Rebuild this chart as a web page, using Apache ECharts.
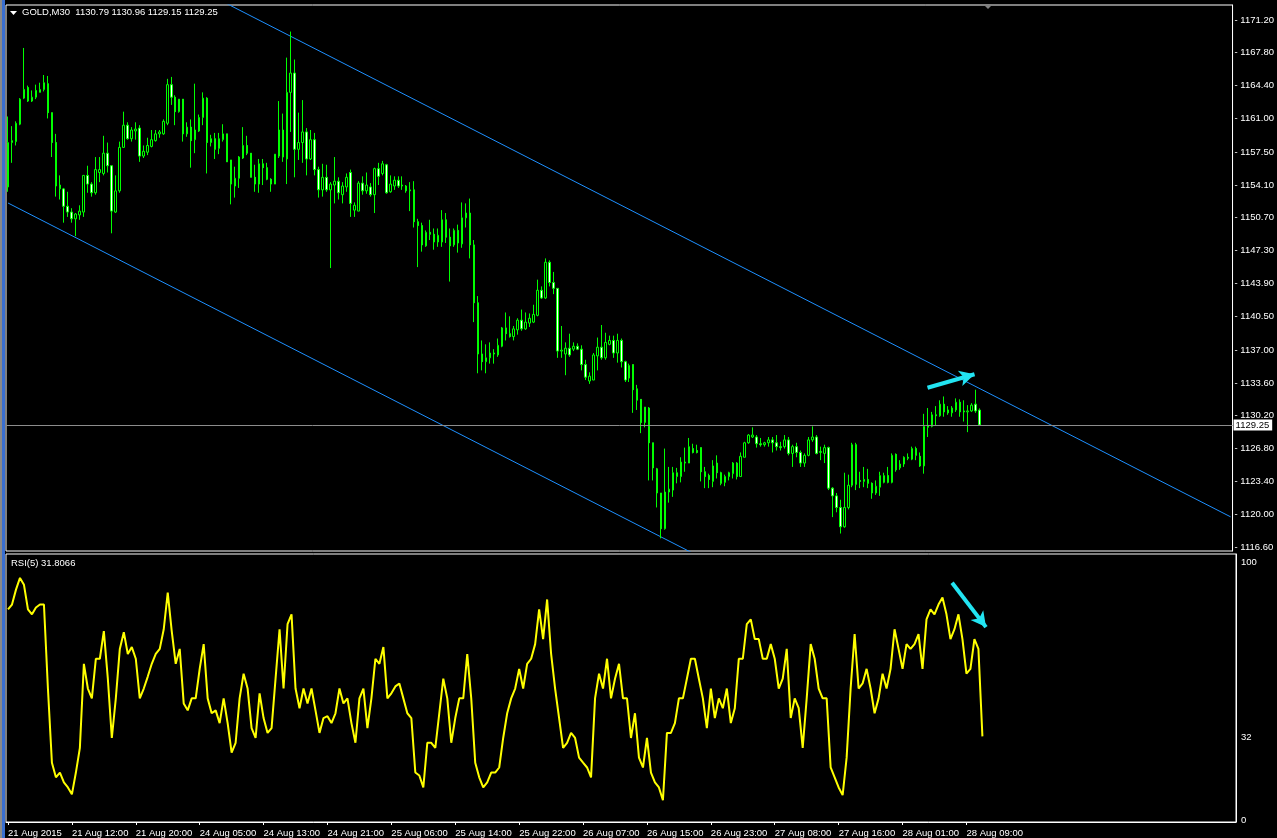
<!DOCTYPE html>
<html><head><meta charset="utf-8">
<script src="https://cdn.jsdelivr.net/npm/echarts@6/dist/echarts.min.js"></script>
<style>html,body{margin:0;padding:0;background:#000;}#c{width:1277px;height:838px;}</style>
</head><body><div id="c"></div>
<script>
const symbolName = 'GOLD,M30';
const xLabels = ['21 Aug 2015','21 Aug 12:00','21 Aug 20:00','24 Aug 05:00','24 Aug 13:00','24 Aug 21:00','25 Aug 06:00','25 Aug 14:00','25 Aug 22:00','26 Aug 07:00','26 Aug 15:00','26 Aug 23:00','27 Aug 08:00','27 Aug 16:00','28 Aug 01:00','28 Aug 09:00'];
const priceTickLabels = ['1116.60','1120.00','1123.40','1126.80','1130.20','1133.60','1137.00','1140.50','1143.90','1147.30','1150.70','1154.10','1157.50','1161.00','1164.40','1167.80','1171.20'];
const rsiTickLabels = ['0','32','100'];
const rsiName = 'RSI(5)';
const rsiLast = '31.8066';

const opens = [
1153.9,1158.5,1158.6,1160.4,1163.1,1164.2,1162.8,1163.2,1163.7,1164.0,
1164.6,1161.6,1158.5,1153.7,1153.7,1151.9,1151.3,1150.6,1151.0,1151.3,
1155.1,1154.2,1153.3,1155.4,1155.3,1157.4,1156.1,1151.3,1153.5,1158.0,
1160.3,1158.9,1159.7,1160.0,1157.1,1157.5,1158.1,1158.7,1159.4,1159.4,
1160.5,1164.5,1163.2,1161.7,1163.0,1159.4,1160.1,1158.8,1159.7,1161.1,
1163.1,1158.5,1158.9,1157.9,1158.8,1159.4,1156.7,1154.0,1154.8,1156.9,
1158.2,1157.4,1154.9,1154.2,1156.3,1155.9,1154.7,1154.2,1157.1,1159.8,
1156.8,1163.7,1165.7,1157.8,1158.5,1159.6,1156.8,1158.8,1155.7,1153.6,
1154.9,1153.6,1154.1,1154.5,1153.1,1153.9,1155.4,1151.5,1151.4,1154.3,
1153.5,1153.9,1153.1,1155.8,1155.3,1156.2,1153.4,1154.0,1154.6,1154.0,
1154.0,1153.5,1153.6,1150.3,1149.9,1147.8,1149.2,1149.0,1148.2,1148.2,
1150.5,1148.7,1147.9,1149.4,1148.0,1150.7,1151.2,1147.9,1141.9,1136.6,
1135.8,1136.2,1136.7,1136.5,1137.4,1139.3,1138.7,1138.4,1139.1,1140.1,
1139.2,1139.8,1139.9,1140.6,1143.2,1142.4,1146.1,1144.0,1143.4,1136.9,
1136.6,1137.2,1137.1,1137.4,1137.1,1135.5,1133.8,1133.9,1136.4,1137.3,
1136.2,1137.6,1138.0,1136.7,1138.0,1135.8,1134.1,1135.5,1131.8,1131.9,
1129.5,1131.0,1127.4,1124.7,1122.2,1118.5,1122.3,1122.5,1123.9,1123.9,
1125.3,1125.3,1126.8,1126.6,1126.9,1124.4,1124.0,1123.4,1125.3,1124.3,
1123.3,1123.9,1124.2,1125.3,1123.9,1125.9,1127.4,1128.0,1128.0,1127.3,
1127.2,1127.4,1127.7,1127.4,1127.0,1127.0,1127.7,1126.3,1127.0,1126.4,
1125.3,1126.1,1127.7,1128.0,1126.4,1126.3,1126.9,1122.7,1121.9,1120.7,
1118.7,1120.7,1123.0,1127.2,1123.5,1123.4,1123.6,1123.2,1122.2,1122.8,
1123.3,1124.0,1123.3,1126.2,1124.8,1125.2,1125.9,1125.7,1126.8,1126.0,
1125.0,1129.0,1129.1,1130.3,1130.2,1131.4,1130.8,1130.5,1130.8,1131.6,
1130.7,1130.6,1130.7,1131.4,1130.79];
const highs = [
1161.2,1160.2,1160.7,1163.1,1168.3,1164.4,1163.9,1164.5,1164.7,1165.5,
1165.4,1161.6,1159.4,1155.1,1153.8,1153.4,1151.7,1151.2,1152.0,1155.1,
1156.1,1154.4,1157.0,1157.0,1159.2,1158.5,1156.1,1155.1,1158.6,1161.7,
1160.6,1160.1,1160.6,1160.3,1158.2,1159.0,1159.8,1159.8,1159.8,1160.9,
1165.1,1165.3,1163.4,1163.0,1163.0,1160.6,1160.9,1164.6,1161.4,1163.7,
1163.2,1159.3,1159.5,1159.5,1160.4,1159.4,1156.7,1156.0,1157.1,1160.1,
1159.2,1157.4,1156.2,1156.8,1156.8,1156.4,1154.8,1157.3,1162.8,1161.5,
1167.3,1170.0,1167.1,1161.6,1162.9,1160.0,1159.8,1159.5,1156.0,1156.3,
1156.2,1154.4,1157.0,1154.9,1154.4,1155.3,1155.7,1152.3,1154.5,1155.0,
1155.4,1154.3,1155.9,1156.4,1156.6,1156.3,1155.1,1155.0,1155.0,1155.0,
1154.1,1154.4,1154.5,1150.6,1150.2,1149.4,1150.5,1149.6,1149.6,1151.5,
1151.2,1149.6,1149.6,1150.0,1152.3,1152.2,1152.7,1148.4,1142.6,1138.0,
1137.6,1137.8,1137.1,1138.2,1139.4,1140.9,1140.5,1139.5,1140.3,1141.2,
1140.9,1140.8,1141.7,1144.3,1143.6,1146.5,1146.3,1145.1,1143.4,1139.5,
1137.8,1138.7,1137.8,1137.7,1137.5,1136.0,1134.7,1136.7,1138.3,1139.6,
1138.8,1138.5,1138.5,1138.7,1138.2,1135.9,1135.6,1135.5,1133.4,1131.9,
1131.1,1131.1,1127.4,1124.8,1122.2,1126.8,1124.9,1124.9,1124.8,1125.9,
1126.9,1127.9,1127.3,1127.2,1126.9,1124.9,1124.2,1125.6,1126.1,1124.4,
1124.1,1124.4,1125.4,1125.4,1126.4,1127.5,1128.3,1129.0,1128.2,1127.9,
1127.5,1128.0,1128.0,1128.2,1127.5,1128.2,1128.0,1127.2,1127.4,1126.6,
1126.3,1128.0,1129.1,1128.2,1127.0,1127.2,1127.0,1122.8,1122.2,1121.5,
1124.3,1124.1,1127.4,1127.4,1124.4,1124.9,1124.7,1123.3,1123.5,1124.4,
1124.3,1124.9,1126.3,1126.3,1125.6,1126.0,1126.3,1127.0,1127.0,1126.4,
1130.4,1131.0,1130.6,1131.2,1131.8,1132.2,1131.2,1131.2,1132.0,1131.9,
1131.8,1131.3,1131.5,1132.9,1130.96];
const lows = [
1153.4,1156.4,1158.2,1160.3,1163.0,1162.7,1162.7,1163.0,1163.7,1163.8,
1161.0,1157.0,1152.9,1152.6,1150.2,1150.8,1150.2,1148.8,1150.5,1150.8,
1153.3,1152.9,1153.1,1154.4,1155.1,1155.4,1149.1,1151.2,1153.3,1158.0,
1158.8,1158.6,1158.8,1156.5,1156.9,1157.2,1158.0,1158.6,1159.0,1159.3,
1160.3,1162.4,1160.3,1161.6,1158.6,1159.1,1155.9,1157.4,1159.6,1160.3,
1155.3,1158.1,1156.8,1157.3,1158.6,1156.5,1152.1,1152.8,1153.8,1156.8,
1157.2,1154.9,1153.4,1153.3,1154.1,1154.6,1153.4,1154.2,1156.9,1156.5,
1154.2,1159.6,1154.9,1156.7,1156.4,1155.1,1156.7,1155.1,1152.8,1152.9,
1153.4,1145.5,1152.2,1152.6,1152.2,1153.4,1150.8,1150.8,1151.4,1153.1,
1153.2,1152.9,1151.2,1154.1,1155.1,1153.2,1153.3,1153.6,1153.8,1153.6,
1153.3,1151.4,1149.7,1145.6,1147.2,1147.7,1148.4,1147.4,1147.7,1147.7,
1148.1,1144.1,1147.7,1147.1,1147.6,1149.7,1146.5,1139.9,1134.6,1134.9,
1134.6,1135.6,1135.6,1136.3,1137.3,1138.0,1138.3,1138.0,1138.6,1139.0,
1139.1,1139.4,1139.8,1140.5,1142.3,1142.3,1143.6,1142.8,1136.2,1136.2,
1134.4,1136.3,1136.9,1137.0,1134.9,1133.9,1133.5,1133.9,1134.9,1136.0,
1136.0,1137.5,1136.2,1135.7,1135.2,1133.7,1133.7,1130.5,1130.8,1128.4,
1129.0,1123.5,1123.5,1120.7,1117.5,1118.4,1121.2,1121.8,1123.2,1123.3,
1124.4,1125.3,1126.3,1126.3,1123.4,1122.7,1122.7,1122.8,1123.7,1123.0,
1122.9,1123.5,1123.7,1123.6,1123.9,1125.9,1127.3,1127.9,1126.9,1127.0,
1127.0,1127.0,1126.4,1126.6,1126.6,1126.8,1126.1,1124.9,1125.9,1124.9,
1124.9,1126.0,1127.5,1126.2,1125.6,1125.3,1122.5,1119.7,1120.2,1118.0,
1118.6,1120.5,1122.8,1122.5,1122.7,1122.8,1122.7,1121.6,1122.0,1121.9,
1123.2,1123.2,1123.2,1124.4,1124.6,1124.9,1125.6,1125.6,1125.6,1124.9,
1124.2,1128.0,1129.0,1129.2,1130.1,1130.1,1130.3,1130.1,1130.6,1130.1,
1129.6,1128.5,1130.6,1130.5,1129.15];
const closes = [
1158.5,1158.7,1160.5,1163.0,1164.0,1162.8,1163.2,1163.9,1164.0,1164.7,
1161.6,1158.5,1154.0,1154.1,1151.9,1151.3,1150.6,1151.1,1151.4,1155.1,
1154.2,1153.3,1155.7,1155.7,1157.4,1156.1,1151.4,1153.5,1158.0,1160.3,
1158.9,1159.8,1159.9,1157.1,1157.6,1158.2,1158.8,1159.4,1159.6,1160.7,
1164.5,1163.2,1161.7,1163.0,1159.4,1160.1,1158.7,1159.8,1161.1,1163.1,
1158.5,1158.9,1157.8,1158.9,1159.4,1156.5,1154.2,1154.8,1157.0,1158.2,
1157.4,1154.9,1154.2,1156.3,1155.9,1154.7,1154.2,1157.3,1159.8,1157.0,
1163.7,1165.7,1157.8,1158.5,1159.6,1156.8,1158.8,1155.7,1153.6,1154.9,
1153.6,1154.2,1154.5,1153.3,1154.0,1154.9,1152.2,1152.0,1154.3,1153.5,
1154.1,1153.1,1155.8,1155.0,1156.3,1153.3,1154.2,1154.6,1154.0,1154.1,
1153.5,1153.6,1150.3,1149.9,1147.9,1149.2,1149.0,1148.2,1148.9,1150.5,
1148.7,1147.8,1149.4,1148.1,1150.7,1151.2,1147.9,1141.9,1136.6,1135.8,
1136.2,1136.7,1136.6,1137.5,1139.3,1138.7,1138.4,1139.2,1140.1,1139.2,
1139.9,1140.3,1140.7,1143.2,1142.4,1146.1,1144.0,1143.4,1136.9,1137.0,
1137.2,1136.5,1137.4,1137.1,1135.5,1134.2,1134.3,1136.5,1137.3,1136.2,
1137.8,1138.0,1136.7,1138.0,1135.8,1133.9,1135.4,1132.9,1133.0,1129.5,
1131.1,1127.4,1124.8,1122.2,1118.5,1122.3,1122.6,1124.3,1124.3,1125.4,
1125.4,1127.0,1126.4,1126.4,1124.4,1123.9,1123.6,1125.0,1124.3,1123.2,
1123.9,1124.3,1125.3,1123.9,1126.0,1127.4,1128.2,1128.2,1127.3,1127.2,
1127.4,1127.7,1127.4,1127.0,1126.9,1127.7,1126.3,1127.0,1126.4,1125.3,
1126.1,1127.7,1128.0,1126.3,1126.5,1126.9,1122.7,1121.9,1120.7,1118.7,
1120.7,1123.0,1127.2,1123.1,1123.4,1123.6,1123.2,1122.2,1122.9,1124.0,
1124.0,1123.3,1126.1,1124.6,1125.2,1125.9,1125.8,1126.8,1126.1,1125.0,
1129.1,1129.2,1130.3,1130.2,1131.4,1130.6,1130.5,1131.0,1131.6,1130.6,
1130.6,1130.7,1131.3,1130.7,1129.25];
const rsi = [
79.6,81.4,87.0,91.4,88.8,79.6,77.7,80.3,81.4,81.4,
49.8,21.9,16.4,18.2,14.5,12.6,10.0,18.2,27.5,59.1,
49.8,46.1,61.0,61.0,71.4,53.5,31.2,46.1,64.7,71.0,
62.8,65.4,61.0,46.1,49.8,54.3,59.1,62.8,64.7,72.1,
85.9,71.4,59.1,64.7,44.2,41.6,46.1,46.1,57.2,66.5,
46.1,40.5,41.6,36.8,46.1,36.8,25.7,29.4,46.1,55.4,
49.8,34.9,31.2,48.0,38.7,33.1,34.9,53.5,72.1,49.8,
74.0,77.7,49.8,42.4,49.8,44.2,49.8,41.6,33.1,38.7,
39.4,36.8,40.5,49.8,44.2,46.1,36.8,29.4,46.1,49.8,
34.9,46.1,61.0,59.1,65.4,46.1,48.0,50.6,51.7,46.1,
40.5,38.7,18.2,17.1,12.6,29.4,29.4,27.5,40.5,53.5,
46.1,29.4,38.7,46.1,46.1,62.8,46.1,21.9,16.4,12.6,
14.5,18.2,18.2,20.1,31.2,40.5,46.1,49.8,57.2,49.8,
59.1,61.0,66.5,79.6,68.4,83.3,62.8,49.8,38.7,27.5,
29.4,33.1,31.2,23.8,21.9,20.1,16.4,46.1,55.4,49.8,
61.0,46.1,53.5,59.1,46.1,46.1,31.2,40.5,23.8,20.1,
31.2,18.2,14.5,12.6,7.8,33.1,33.1,36.8,46.1,46.1,
53.5,61.0,61.0,53.5,46.1,34.9,49.8,38.7,46.1,42.4,
49.8,36.8,42.4,61.0,61.0,74.0,75.8,68.4,68.4,61.0,
61.0,66.5,61.0,49.8,53.5,64.7,38.7,46.1,42.4,27.5,
46.1,66.5,61.0,49.8,46.1,46.1,20.1,16.4,12.6,9.7,
23.8,49.8,70.3,49.8,51.7,57.2,49.8,40.5,46.1,55.4,
49.8,57.2,72.1,64.7,57.2,66.5,64.7,66.5,70.3,57.2,
75.8,79.6,77.7,81.4,84.0,77.7,68.4,72.1,77.7,68.4,
55.4,57.2,68.4,64.7,31.8066];
// drawing objects, [bar index, value]
const channelUpper = [[0, 1184.48], [307, 1119.73]];
const channelLower = [[0, 1152.24], [307, 1087.48]];
const arrowMain = [[230.9, 1133.1], [242.7, 1134.5]];
const arrowRsi = [[236.4, 89.6], [244.9, 72.9]];

const slotCount = 308;
const labelEvery = 16;
const FONT = '"Liberation Sans", Arial, sans-serif';
const cats = Array.from({length: slotCount}, (_, i) => String(i));
const showIdx = (i) => i % labelEvery === 0 && i / labelEvery < xLabels.length;
const candleData = opens.map((o, i) => [o, closes[i], lows[i], highs[i]]);
const last = closes.length - 1;
const headerText = symbolName + '  ' + opens[last].toFixed(2) + ' ' + highs[last].toFixed(2) + ' ' + lows[last].toFixed(2) + ' ' + closes[last].toFixed(2);
const priceTickValues = priceTickLabels.map(Number);
const rsiTickValues = rsiTickLabels.map(Number);
const priceLabelFor = (v) => { for (const l of priceTickLabels) { if (Math.abs(Number(l) - v) < 0.01) return '- ' + l; } return ''; };
const txt = {color: '#ffffff', fontSize: 9.5, fontFamily: FONT, fontWeight: 'normal'};
const whiteLine = {show: true, onZero: false, lineStyle: {color: '#ffffff', width: 1}};

const chart = echarts.init(document.getElementById('c'), null, {renderer: 'canvas', width: 1277, height: 838});
chart.setOption({
  backgroundColor: '#000000',
  animation: false,
  title: [
    {text: headerText, left: 22, top: 7, padding: 0, textStyle: txt},
    {text: rsiName + ' ' + rsiLast, left: 11, top: 558, padding: 0, textStyle: txt}
  ],
  grid: [
    {left: 6, top: 5, width: 1230, height: 546, show: true, borderColor: '#ffffff', borderWidth: 1, backgroundColor: 'transparent'},
    {left: 6, top: 554, width: 1230, height: 271, show: true, borderColor: '#ffffff', borderWidth: 1, backgroundColor: 'transparent'}
  ],
  xAxis: [
    {type: 'category', gridIndex: 0, data: cats, boundaryGap: true, axisLine: {show: false, onZero: false}, axisTick: {show: false}, axisLabel: {show: false}, splitLine: {show: false}},
    {type: 'category', gridIndex: 1, data: cats, boundaryGap: true, axisLine: whiteLine, splitLine: {show: false},
      axisTick: {show: true, interval: (i) => showIdx(i), alignWithLabel: true, length: 3, lineStyle: {color: '#ffffff'}},
      axisLabel: Object.assign({interval: (i) => showIdx(i), formatter: (v, i) => xLabels[i / labelEvery] || '', align: 'left', margin: 6}, txt)},
    {type: 'value', gridIndex: 0, min: -0.5, max: slotCount - 0.5, show: false, axisLine: {onZero: false}},
    {type: 'value', gridIndex: 1, min: -0.5, max: slotCount - 0.5, show: false, axisLine: {onZero: false}}
  ],
  yAxis: [
    {type: 'value', gridIndex: 0, position: 'right', min: 1116.19, max: 1172.75, axisLine: whiteLine, splitLine: {show: false},
      axisTick: {show: false},
      axisLabel: Object.assign({customValues: priceTickValues, formatter: (v) => priceLabelFor(v), margin: 2}, txt)},
    {type: 'value', gridIndex: 1, position: 'right', min: -0.4, max: 100.4, axisLine: whiteLine, splitLine: {show: false},
      axisTick: {show: false},
      axisLabel: Object.assign({customValues: rsiTickValues, margin: 5,
        formatter: (v) => v >= 99 ? '{top|' + rsiTickLabels[2] + '}' : (v <= 1 ? '{bot|' + rsiTickLabels[0] + '}' : '{mid|' + rsiTickLabels[1] + '}'),
        rich: {top: Object.assign({padding: [14, 0, 0, 0]}, txt), mid: Object.assign({padding: [3, 0, 0, 0]}, txt), bot: Object.assign({padding: [0, 0, 2, 0]}, txt)}}, txt)}
  ],
  series: [
    {type: 'line', xAxisIndex: 2, yAxisIndex: 0, data: channelUpper, symbol: 'none', silent: true, clip: true, z: 1,
      lineStyle: {color: '#1e90ff', width: 1}},
    {type: 'line', xAxisIndex: 2, yAxisIndex: 0, data: channelLower, symbol: 'none', silent: true, clip: true, z: 1,
      lineStyle: {color: '#1e90ff', width: 1}},
    {type: 'candlestick', xAxisIndex: 0, yAxisIndex: 0, data: candleData, barWidth: 2, silent: true, z: 3,
      itemStyle: {color: '#000000', color0: '#ffffff', borderColor: '#00ff00', borderColor0: '#00ff00', borderColorDoji: '#00ff00', borderWidth: 1},
      markLine: {silent: true, symbol: ['none', 'none'], animation: false,
        data: [{yAxis: closes[last]}],
        lineStyle: {color: '#8c8c8c', width: 1, type: 'solid'},
        label: Object.assign({show: true, position: 'end', formatter: closes[last].toFixed(2), backgroundColor: '#ffffff', padding: [1, 3, 0, 2], distance: 1}, txt, {color: '#000000'}),
        emphasis: {disabled: true}}},
    {type: 'line', xAxisIndex: 2, yAxisIndex: 0, data: arrowMain, symbol: 'none', silent: true, z: 5,
      lineStyle: {opacity: 0},
      markLine: {silent: true, symbol: ['none', 'arrow'], symbolSize: [12, 15], animation: false,
        data: [[{coord: arrowMain[0]}, {coord: arrowMain[1]}]],
        lineStyle: {color: '#22e4f2', width: 4, type: 'solid'}, label: {show: false}, emphasis: {disabled: true}}},
    {type: 'line', xAxisIndex: 1, yAxisIndex: 1, data: rsi, symbol: 'none', silent: true, z: 3,
      lineStyle: {color: '#ffff00', width: 2}},
    {type: 'line', xAxisIndex: 3, yAxisIndex: 1, data: arrowRsi, symbol: 'none', silent: true, z: 5,
      lineStyle: {opacity: 0},
      markLine: {silent: true, symbol: ['none', 'arrow'], symbolSize: [12, 15], animation: false,
        data: [[{coord: arrowRsi[0]}, {coord: arrowRsi[1]}]],
        lineStyle: {color: '#22e4f2', width: 4, type: 'solid'}, label: {show: false}, emphasis: {disabled: true}}}
  ],
  graphic: [
    {type: 'rect', left: 0, top: 0, shape: {width: 2, height: 838}, style: {fill: '#8a8a8a'}, silent: true},
    {type: 'rect', left: 2, top: 0, shape: {width: 3, height: 838}, style: {fill: '#3a6fd0'}, silent: true},
    {type: 'polygon', shape: {points: [[10, 11], [17, 11], [13.5, 15]]}, style: {fill: '#ffffff'}, silent: true},
    {type: 'polygon', shape: {points: [[983, 4], [993, 4], [988, 9]]}, style: {fill: '#808080'}, silent: true}
  ]
});
</script>
</body></html>
